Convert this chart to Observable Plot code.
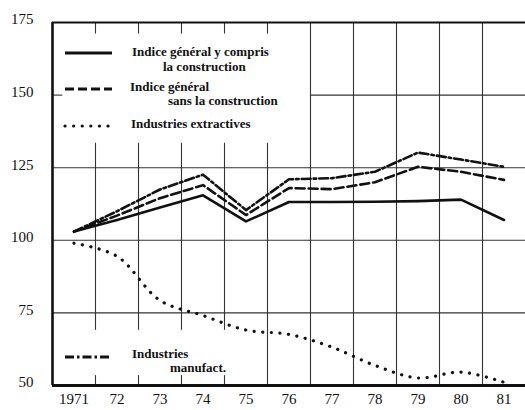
<!DOCTYPE html>
<html><head><meta charset="utf-8">
<script src="https://cdn.jsdelivr.net/npm/d3@7"></script>
<script src="https://cdn.jsdelivr.net/npm/@observablehq/plot@0.6"></script>
<style>
html,body{margin:0;padding:0;background:#fff}
</style></head><body><div id="chart"></div>
<script>
// ---- data ----
const years = [1971, 1972, 1973, 1974, 1975, 1976, 1977, 1978, 1979, 1980, 1981];
const tickLabels = ["1971", "72", "73", "74", "75", "76", "77", "78", "79", "80", "81"];
const yTicks = [50, 75, 100, 125, 150, 175];
const generalIncl = [103, 107, 111.3, 115.5, 106.5, 113.2, 113.2, 113.3, 113.5, 114, 107];
const generalExcl = [103, 108.5, 114.5, 119, 108.7, 118, 117.6, 120, 125.3, 123.6, 120.8];
const extractives = [99, 94.5, 79.3, 74.1, 69.1, 67.6, 63.2, 56.9, 52.6, 54.6, 51.1];
const manufact = [103, 110, 117.5, 122.6, 110.4, 121, 121.4, 123.6, 130.2, 127.8, 125.3];
const legendLabels = [
  ["Indice général y compris", "la construction"],
  ["Indice général", "sans la construction"],
  ["Industries extractives"],
  ["Industries", "manufact."]
];

const table = years.map((y, i) => ({year: y, a: generalIncl[i], b: generalExcl[i], c: extractives[i], d: manufact[i]}));

// ---- layout / style ----
const serif = "'Liberation Serif','DejaVu Serif',serif";
const ink = "#111";
const dashB = "9,4";
const dashD = "9,3,2.5,3";
const dotC = "0.1,8.5";

// grid segments (with gaps where the legend boxes sit)
const topTickEnd = 171, legendBottom = 133.4, lowerBoxTop = 69, bottomTickStart = 53.4;
const vGrid = [];
for (let k = 0; k < years.length - 1; k++) {
  const x = years[k] + 0.5;
  if (x <= 1975.5) {
    vGrid.push({x, y1: 175, y2: topTickEnd});
    if (x <= 1974.5) {
      vGrid.push({x, y1: legendBottom, y2: lowerBoxTop});
      vGrid.push({x, y1: bottomTickStart, y2: 50});
    } else {
      vGrid.push({x, y1: legendBottom, y2: 50});
    }
  } else {
    vGrid.push({x, y1: 50, y2: 175});
  }
}
const hGrid = [
  {y: 75, x1: 1970.5, x2: 1981.5},
  {y: 100, x1: 1970.5, x2: 1981.5},
  {y: 125, x1: 1970.5, x2: 1981.5},
  {y: 150, x1: 1976.5, x2: 1981.5},
  {y: 150, x1: 1970.5, x2: 1970.74}
];

const plot = Plot.plot({
  width: 525,
  height: 410,
  marginLeft: 52,
  marginRight: 0,
  marginTop: 22,
  marginBottom: 25,
  style: {fontFamily: serif, fontSize: "15px", color: ink, background: "#fff"},
  x: {domain: [1970.5, 1981.5]},
  y: {domain: [50, 175]},
  marks: [
    Plot.ruleX(vGrid, {x: "x", y1: "y1", y2: "y2", stroke: "#333", strokeWidth: 1.1}),
    Plot.ruleY(hGrid, {y: "y", x1: "x1", x2: "x2", stroke: "#333", strokeWidth: 1.1}),
    Plot.ruleX([1970.5], {stroke: ink, strokeWidth: 2.6}),
    Plot.ruleY([175], {stroke: ink, strokeWidth: 2.2}),
    Plot.ruleY([50], {stroke: ink, strokeWidth: 3}),
    Plot.axisY({ticks: yTicks, tickSize: 0, tickPadding: 19, dy: -3, fontSize: 15, fontFamily: serif}),
    Plot.axisX({ticks: years, tickSize: 0, tickPadding: 8, fontSize: 15, fontFamily: serif,
      tickFormat: d => tickLabels[years.indexOf(d)]}),
    Plot.line(table, {x: "year", y: "c", curve: "catmull-rom", stroke: ink, strokeWidth: 3.2,
      strokeDasharray: dotC, strokeLinecap: "round"}),
    Plot.line(table, {x: "year", y: "d", stroke: ink, strokeWidth: 2.6, strokeDasharray: dashD}),
    Plot.line(table, {x: "year", y: "b", stroke: ink, strokeWidth: 2.6, strokeDasharray: dashB}),
    Plot.line(table, {x: "year", y: "a", stroke: ink, strokeWidth: 2.6})
  ]
});
document.getElementById("chart").appendChild(plot);

// ---- legend (pixel layout) ----
const svg = d3.select(plot);
const lg = svg.append("g").attr("font-family", serif).attr("font-weight", "bold")
  .attr("font-size", 13).attr("fill", ink).attr("text-anchor", "start");
const items = [
  {dash: null, sy: 53, tx: 132, ty: 56, tx2: 163, ty2: 70.5, cap: "butt", w: 2.8},
  {dash: dashB, sy: 89, tx: 130, ty: 90.5, tx2: 168, ty2: 105, cap: "butt", w: 2.8},
  {dash: dotC, sy: 126, tx: 131, ty: 128, cap: "round", w: 3.2},
  {dash: dashD, sy: 357, tx: 132, ty: 357.5, tx2: 170, ty2: 372, cap: "butt", w: 2.8}
];
items.forEach((it, i) => {
  lg.append("line").attr("x1", 65).attr("x2", 112).attr("y1", it.sy).attr("y2", it.sy)
    .attr("stroke", ink).attr("stroke-width", it.w)
    .attr("stroke-dasharray", it.dash).attr("stroke-linecap", it.cap);
  lg.append("text").attr("x", it.tx).attr("y", it.ty).text(legendLabels[i][0]);
  if (legendLabels[i][1]) lg.append("text").attr("x", it.tx2).attr("y", it.ty2).text(legendLabels[i][1]);
});
</script>
</body></html>
